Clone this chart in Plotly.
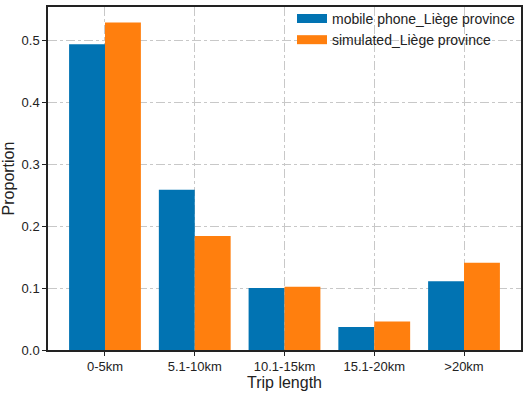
import plotly.graph_objects as go

categories = ["0-5km", "5.1-10km", "10.1-15km", "15.1-20km", ">20km"]
mobile_phone = [0.494, 0.259, 0.100, 0.037, 0.111]
simulated = [0.529, 0.184, 0.102, 0.046, 0.141]
series_names = ["mobile phone_Liège province", "simulated_Liège province"]
colors = ["#0173B2", "#FF7F0E"]
y_ticks = [0.0, 0.1, 0.2, 0.3, 0.4, 0.5]

fig = go.Figure()
for name, vals, c in zip(series_names, [mobile_phone, simulated], colors):
    fig.add_trace(go.Bar(x=categories, y=vals, name=name, marker_color=c,
                         marker_line_width=0, showlegend=False))
for name, c in zip(series_names, colors):
    fig.add_trace(go.Scatter(x=[None], y=[None], mode="lines", name=name,
                             line=dict(color=c, width=9)))

axis_common = dict(showline=True, linecolor="#222", linewidth=1.5, mirror=True,
                   ticks="outside", ticklen=4, tickcolor="#222",
                   showgrid=True, gridcolor="#c8c8c8", griddash="dashdot", gridwidth=1,
                   zeroline=False, tickfont=dict(size=13, color="#222"))

fig.update_layout(
    width=526, height=394,
    margin=dict(l=48, r=3, t=3, b=44),
    paper_bgcolor="white", plot_bgcolor="white",
    font=dict(family="Liberation Sans, Arial, sans-serif", color="#222"),
    barmode="group", bargap=0.2, bargroupgap=0,
    xaxis=dict(axis_common, range=[-0.635, 4.635],
               title=dict(text="Trip length", font=dict(size=16), standoff=2)),
    yaxis=dict(axis_common, range=[0, 0.554], tickvals=y_ticks,
               tickformat=".1f",
               title=dict(text="Proportion", font=dict(size=16), standoff=4)),
    legend=dict(x=1.0, y=1.012, xanchor="right", yanchor="top",
                bgcolor="rgba(255,255,255,0)", font=dict(size=14, color="#222"),
                itemwidth=30, tracegroupgap=0),
)

fig.write_html("out.html", config={"displayModeBar": False},
               post_script="document.body.style.margin='0';")
